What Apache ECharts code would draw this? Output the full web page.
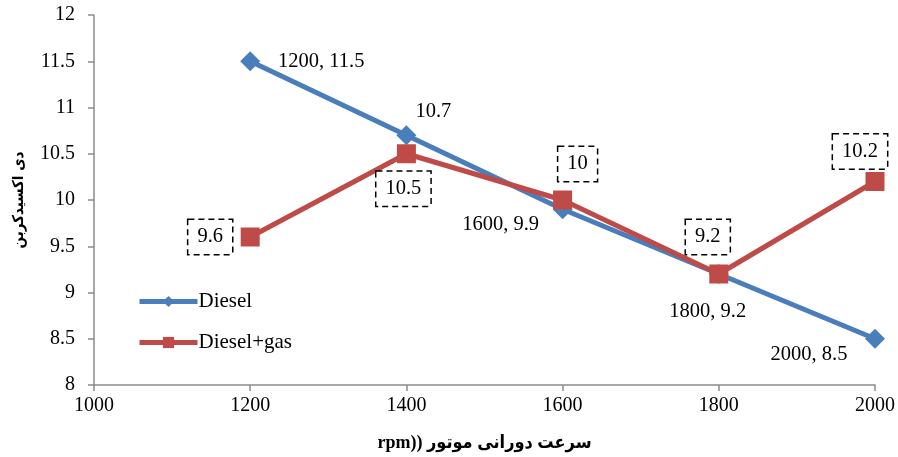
<!DOCTYPE html>
<html>
<head>
<meta charset="utf-8">
<script src="https://cdn.jsdelivr.net/npm/echarts@6/dist/echarts.min.js"></script>
<style>
  html, body { margin: 0; padding: 0; background: #fff; }
  #chart { width: 898px; height: 457px; }
</style>
</head>
<body>
<div id="chart"></div>
<script>
// Engine speed (rpm) and CO2 readings for the two fuel modes
const rpm = [1200, 1400, 1600, 1800, 2000];
const diesel = [11.5, 10.7, 9.9, 9.2, 8.5];
const dieselGas = [9.6, 10.5, 10, 9.2, 10.2];

const xTicks = { min: 1000, max: 2000, interval: 200 };
const yTicks = { min: 8, max: 12, interval: 0.5 };

const seriesNames = ['Diesel', 'Diesel+gas'];
const xTitle = 'rpm)) سرعت دورانی موتور';
const yTitle = 'دی اکسیدکربن';

// Diesel labels show "x, y" except at 1400 where only y is shown
const dieselShowX = [true, false, true, true, true];

// label placement relative to each marker
const dieselOffsets = [[71, 0], [27, -24], [-62, 15], [-11, 38], [-66, 16]];
const gasOffsets = [[-40, 0], [-3, 35], [15, -36], [-11, -37], [-15, -30]];

const serif = '"Liberation Serif", "Times New Roman", serif';
const arabicBold = '"DejaVu Sans Condensed", "DejaVu Sans", sans-serif';
const blue = '#4A7EBB';
const red = '#BE4B48';

const dieselData = rpm.map((x, i) => ({
  value: [x, diesel[i]],
  label: {
    show: true,
    position: 'inside',
    offset: dieselOffsets[i],
    formatter: dieselShowX[i] ? (x + ', ' + diesel[i]) : String(diesel[i])
  }
}));

const gasData = rpm.map((x, i) => ({
  value: [x, dieselGas[i]],
  label: {
    show: true,
    position: 'inside',
    offset: gasOffsets[i],
    formatter: String(dieselGas[i])
  }
}));

const chart = echarts.init(document.getElementById('chart'), null, { renderer: 'canvas' });
chart.setOption({
  animation: false,
  backgroundColor: '#fff',
  grid: { left: 94, top: 15, width: 782, height: 372, containLabel: false },
  legend: {
    orient: 'vertical',
    left: 132,
    top: 286,
    itemWidth: 58,
    itemHeight: 14,
    itemGap: 20,
    lineStyle: { width: 5 },
    textStyle: { fontFamily: serif, fontSize: 21, color: '#000', padding: [0, 0, 0, -4] },
    data: seriesNames
  },
  xAxis: {
    type: 'value',
    min: xTicks.min,
    max: xTicks.max,
    interval: xTicks.interval,
    name: xTitle,
    nameLocation: 'middle',
    nameGap: 49,
    nameTextStyle: { fontFamily: serif + ', ' + arabicBold, fontSize: 18, fontWeight: 'bold', color: '#000' },
    axisLine: { lineStyle: { color: '#8c8c8c', width: 1.5 } },
    axisTick: { show: true, length: 6, lineStyle: { color: '#8c8c8c', width: 1.5 } },
    axisLabel: {
      margin: 11, fontFamily: serif, fontSize: 20, color: '#000',
      formatter: v => String(v)
    },
    splitLine: { show: false }
  },
  yAxis: {
    type: 'value',
    min: yTicks.min,
    max: yTicks.max,
    interval: yTicks.interval,
    name: yTitle,
    nameLocation: 'middle',
    nameGap: 67,
    nameTextStyle: { fontFamily: arabicBold, fontSize: 15, fontWeight: 'bold', color: '#000' },
    axisLine: { show: true, lineStyle: { color: '#8c8c8c', width: 1.5 } },
    axisTick: { show: true, length: 6, lineStyle: { color: '#8c8c8c', width: 1.5 } },
    axisLabel: { margin: 19, fontFamily: serif, fontSize: 20, color: '#000' },
    splitLine: { show: false }
  },
  series: [
    {
      name: seriesNames[0],
      type: 'line',
      data: dieselData,
      symbol: 'diamond',
      symbolSize: 20,
      itemStyle: { color: blue },
      lineStyle: { color: blue, width: 5 },
      label: { fontFamily: serif, fontSize: 20.5, color: '#000', align: 'center', verticalAlign: 'middle' },
      z: 2
    },
    {
      name: seriesNames[1],
      type: 'line',
      data: gasData,
      symbol: 'rect',
      symbolSize: 19,
      itemStyle: { color: red },
      lineStyle: { color: red, width: 5 },
      label: {
        fontFamily: serif, fontSize: 20.5, color: '#000', align: 'center', verticalAlign: 'middle',
        borderColor: '#000', borderWidth: 1.5, borderType: [6, 4],
        padding: [7, 9, 6, 9], backgroundColor: '#fff'
      },
      z: 3
    }
  ]
});
</script>
</body>
</html>
